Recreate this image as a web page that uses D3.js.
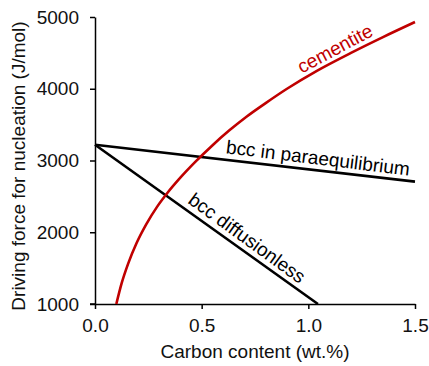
<!DOCTYPE html>
<html>
<head>
<meta charset="utf-8">
<script src="https://cdn.jsdelivr.net/npm/d3@7"></script>
<style>
  html, body { margin: 0; padding: 0; background: #fff; }
  svg { display: block; font-family: "Liberation Sans", Arial, sans-serif; }
</style>
</head>
<body>
<svg id="chart" width="429" height="366"></svg>
<script>
// ---- data ----
const xTicks = [0, 0.5, 1.0, 1.5];
const yTicks = [1000, 2000, 3000, 4000, 5000];

const cementiteX = [0.10, 0.125, 0.155, 0.195, 0.24, 0.29, 0.34, 0.40, 0.47, 0.55, 0.63, 0.71, 0.80, 0.90, 1.04, 1.20, 1.35, 1.50];
const cementiteY = [1000, 1290, 1560, 1850, 2110, 2350, 2550, 2760, 2980, 3210, 3420, 3610, 3800, 4000, 4250, 4500, 4720, 4930];

const paraX = [0.0, 1.5];
const paraY = [3220, 2705];

const diffX = [0.0, 1.045];
const diffY = [3220, 1000];

const labelText = ["cementite", "bcc in paraequilibrium", "bcc diffusionless"];
const labelX = [1.125, 1.045, 0.7125];
const labelY = [4560, 3035, 1920];
const labelAngle = [-28, 7, 36];
const labelColor = ["#c00000", "#000", "#000"];

// ---- layout ----
const W = 429, H = 366;
const margin = {top: 17, right: 14, bottom: 62, left: 95};
const svg = d3.select("#chart");
const x = d3.scaleLinear().domain([0, 1.5]).range([margin.left, W - margin.right]);
const y = d3.scaleLinear().domain([1000, 5000]).range([H - margin.bottom, margin.top]);
const FS = 19;

// axes
const gx = svg.append("g").attr("transform", `translate(0,${y(1000)})`)
  .call(d3.axisBottom(x).tickValues(xTicks).tickFormat(d3.format(".1f")).tickSize(5).tickPadding(10).tickSizeOuter(0));
const gy = svg.append("g").attr("transform", `translate(${x(0)},0)`)
  .call(d3.axisLeft(y).tickValues(yTicks).tickFormat(d3.format("d")).tickSize(5).tickPadding(11).tickSizeOuter(0));
[gx, gy].forEach(g => {
  g.selectAll("path.domain").attr("stroke", "#000").attr("stroke-width", 1.5);
  g.selectAll(".tick line").attr("stroke", "#000").attr("stroke-width", 1.5);
  g.selectAll(".tick text").attr("fill", "#111").style("font-size", FS + "px").style("font-family", "'Liberation Sans', Arial, sans-serif");
});
gx.append("line").attr("x1", x(0) - 5).attr("x2", x(0)).attr("y1", 0).attr("y2", 0).attr("stroke", "#000").attr("stroke-width", 1.5);

// axis titles
svg.append("text").attr("x", (x(0) + x(1.5)) / 2).attr("y", 358)
  .attr("text-anchor", "middle").style("font-size", FS + "px").attr("fill", "#111")
  .text("Carbon content (wt.%)");
svg.append("text").attr("transform", `translate(25,166) rotate(-90)`)
  .attr("text-anchor", "middle").style("font-size", FS + "px").attr("fill", "#111")
  .text("Driving force for nucleation (J/mol)");

// lines
const line = d3.line().x(d => x(d[0])).y(d => y(d[1]));
const curve = d3.line().x(d => x(d[0])).y(d => y(d[1])).curve(d3.curveMonotoneX);

svg.append("path").datum(paraX.map((v, i) => [v, paraY[i]]))
  .attr("d", line).attr("fill", "none").attr("stroke", "#000").attr("stroke-width", 2.6);
svg.append("path").datum(diffX.map((v, i) => [v, diffY[i]]))
  .attr("d", line).attr("fill", "none").attr("stroke", "#000").attr("stroke-width", 2.6);
svg.append("path").datum(cementiteX.map((v, i) => [v, cementiteY[i]]))
  .attr("d", curve).attr("fill", "none").attr("stroke", "#c00000").attr("stroke-width", 2.6);

// labels
labelText.forEach((t, i) => {
  svg.append("text")
    .attr("transform", `translate(${x(labelX[i])},${y(labelY[i])}) rotate(${labelAngle[i]})`)
    .attr("text-anchor", "middle").attr("dominant-baseline", "central")
    .style("font-size", FS + "px").attr("fill", labelColor[i]).text(t);
});
</script>
</body>
</html>
